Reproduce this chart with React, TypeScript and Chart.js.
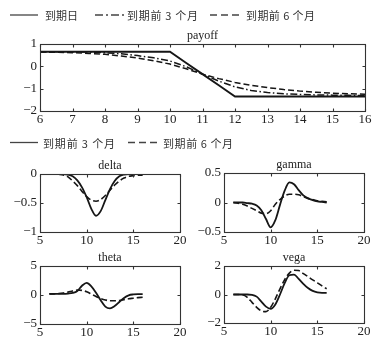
import React, { useEffect, useRef } from "react";
import { Chart, registerables } from "chart.js";
Chart.register(...registerables);

// ---------- data ----------
const xs = [6, 6.5, 7, 7.5, 8, 8.5, 9, 9.5, 10, 10.5, 11, 11.5, 12, 12.5, 13, 13.5, 14, 14.5, 15, 15.5, 16];

const payoffExpiry = [0.65, 0.65, 0.65, 0.65, 0.65, 0.65, 0.65, 0.65, 0.65, 0.15, -0.35, -0.85, -1.35, -1.35, -1.35, -1.35, -1.35, -1.35, -1.35, -1.35, -1.35];
const payoff3m = [0.65, 0.65, 0.65, 0.64, 0.61, 0.56, 0.48, 0.38, 0.24, -0.02, -0.35, -0.66, -0.92, -1.08, -1.17, -1.23, -1.26, -1.28, -1.29, -1.3, -1.31];
const payoff6m = [0.64, 0.63, 0.61, 0.58, 0.54, 0.46, 0.37, 0.25, 0.1, -0.11, -0.35, -0.55, -0.72, -0.85, -0.95, -1.04, -1.11, -1.16, -1.2, -1.23, -1.25];

const delta3m = [0, 0, 0, 0, -0.01, -0.04, -0.11, -0.23, -0.4, -0.6, -0.72, -0.64, -0.45, -0.26, -0.12, -0.04, -0.01, 0, 0, 0, 0];
const delta6m = [0, 0, -0.005, -0.015, -0.05, -0.12, -0.2, -0.3, -0.39, -0.45, -0.47, -0.44, -0.37, -0.28, -0.19, -0.12, -0.07, -0.04, -0.03, -0.02, -0.02];

const gamma3m = [0, 0, 0, -0.01, -0.02, -0.05, -0.13, -0.28, -0.42, -0.3, -0.04, 0.2, 0.34, 0.31, 0.21, 0.12, 0.07, 0.04, 0.02, 0.01, 0];
const gamma6m = [0, -0.01, -0.03, -0.06, -0.1, -0.14, -0.18, -0.19, -0.14, -0.03, 0.05, 0.11, 0.14, 0.14, 0.13, 0.1, 0.07, 0.05, 0.03, 0.02, 0.01];

const theta3m = [0.2, 0.2, 0.2, 0.2, 0.25, 0.35, 0.7, 1.6, 2.1, 1.5, 0.4, -0.9, -2.0, -2.3, -1.9, -1.2, -0.5, -0.05, 0.1, 0.15, 0.15];
const theta6m = [0.2, 0.2, 0.25, 0.35, 0.5, 0.7, 0.85, 0.8, 0.55, 0.15, -0.25, -0.6, -0.85, -1.0, -1.0, -0.95, -0.8, -0.65, -0.55, -0.45, -0.4];

const vega3m = [0, 0, 0, 0, -0.02, -0.15, -0.5, -0.85, -1.0, -0.7, 0.0, 0.8, 1.35, 1.4, 1.1, 0.75, 0.45, 0.25, 0.15, 0.12, 0.12];
const vega6m = [0, 0, -0.02, -0.2, -0.55, -0.9, -1.15, -1.2, -0.9, -0.3, 0.4, 1.05, 1.5, 1.7, 1.68, 1.47, 1.25, 1.03, 0.82, 0.6, 0.4];

const payoffXTicks = [6, 7, 8, 9, 10, 11, 12, 13, 14, 15, 16];
const greekXTicks = [5, 10, 15, 20];
const payoffYTicks = [-2, -1, 0, 1];
const deltaYTicks = [-1, -0.5, 0];
const gammaYTicks = [-0.5, 0, 0.5];
const thetaYTicks = [-5, 0, 5];
const vegaYTicks = [-2, 0, 2];

const legendTop = ["到期日", "到期前 3 个月", "到期前 6 个月"];
const legendGreek = ["到期前 3 个月", "到期前 6 个月"];

// ---------- styles ----------
const LINE = "#161616";
const DASH = [6, 3];
const DASHDOT = [7, 2.5, 1.5, 2.5];
const FONT = '"Liberation Serif", "Times New Roman", serif';

const framePlugin = {
  id: "frame",
  afterDraw(chart: any, _a: any, opts: any) {
    const { ctx, chartArea: a, scales } = chart;
    ctx.save();
    ctx.strokeStyle = "#333";
    ctx.lineWidth = 1.1;
    const l = Math.round(a.left) + 0.5, t = Math.round(a.top) + 0.5;
    const r = Math.round(a.right) + 0.5, b = Math.round(a.bottom) + 0.5;
    ctx.strokeRect(l, t, r - l, b - t);
    ctx.beginPath();
    for (const tk of scales.x.ticks) {
      const px = Math.round(scales.x.getPixelForValue(tk.value)) + 0.5;
      ctx.moveTo(px, b); ctx.lineTo(px, b - 3);
      ctx.moveTo(px, t); ctx.lineTo(px, t + 3);
    }
    for (const tk of scales.y.ticks) {
      const py = Math.round(scales.y.getPixelForValue(tk.value)) + 0.5;
      ctx.moveTo(l, py); ctx.lineTo(l + 3, py);
      ctx.moveTo(r, py); ctx.lineTo(r - 3, py);
    }
    ctx.stroke();
    ctx.fillStyle = "#222";
    ctx.font = `12px ${FONT}`;
    ctx.textAlign = "center";
    ctx.textBaseline = "alphabetic";
    ctx.fillText(opts.text, (a.left + a.right) / 2, a.top - 5);
    ctx.restore();
  },
};

type Series = { values: number[]; dash: number[]; width?: number };

function Panel(props: {
  box: [number, number, number, number];
  title: string;
  xMin: number; xMax: number; xTicks: number[];
  yMin: number; yMax: number; yTicks: number[];
  series: Series[];
  smooth?: boolean;
}) {
  const ref = useRef<HTMLCanvasElement>(null);
  const [L, T, R, B] = props.box;
  const cw = R - L + 50;
  const ch = B - T + 40;
  useEffect(() => {
    const fmt = (v: any) => String(v).replace("-", "\u2212");
    const chart = new Chart(ref.current!, {
      type: "line",
      data: {
        datasets: props.series.map((s, i) => ({
          label: "s" + i,
          data: xs.map((x, j) => ({ x, y: s.values[j] })),
          borderColor: LINE,
          borderWidth: s.width ?? 1.8,
          borderDash: s.dash,
          pointRadius: 0,
          fill: false,
          cubicInterpolationMode: props.smooth ? "monotone" : "default",
          tension: 0,
        })),
      },
      options: {
        animation: false,
        responsive: false,
        devicePixelRatio: 1,
        layout: { padding: { top: 20, right: 10, left: 0, bottom: 0 } },
        plugins: { legend: { display: false }, tooltip: { enabled: false }, frame: { text: props.title } } as any,
        scales: {
          x: {
            type: "linear",
            min: props.xMin,
            max: props.xMax,
            grid: { display: false, drawTicks: false },
            border: { display: false },
            afterBuildTicks: (s: any) => { s.ticks = props.xTicks.map((v) => ({ value: v })); },
            afterFit: (s: any) => { s.height = 20; },
            ticks: { padding: 1, maxRotation: 0, autoSkip: false, color: "#222", font: { family: FONT, size: 13 }, callback: fmt },
          },
          y: {
            type: "linear",
            min: props.yMin,
            max: props.yMax,
            grid: { display: false, drawTicks: false },
            border: { display: false },
            afterBuildTicks: (s: any) => { s.ticks = props.yTicks.map((v) => ({ value: v })); },
            afterFit: (s: any) => { s.width = 40; },
            ticks: { padding: 3, autoSkip: false, color: "#222", font: { family: FONT, size: 13 }, callback: fmt },
          },
        },
      } as any,
      plugins: [framePlugin],
    });
    return () => chart.destroy();
  }, []);
  return (
    <canvas
      ref={ref}
      width={cw}
      height={ch}
      style={{ position: "absolute", left: L - 40, top: T - 20, width: cw, height: ch }}
    />
  );
}

function Legend() {
  const tf = { fontFamily: '"Noto Sans CJK SC", sans-serif', fontSize: 11, fill: "#333" } as any;
  const ln = { stroke: "#444", strokeWidth: 1.3 } as any;
  return (
    <svg width={385} height={353} style={{ position: "absolute", left: 0, top: 0, pointerEvents: "none" }}>
      <line x1={10} y1={15} x2={38} y2={15} {...ln} />
      <text x={45} y={15} dominantBaseline="central" textLength={33} lengthAdjust="spacing" {...tf}>{legendTop[0]}</text>
      <line x1={95} y1={15} x2={125} y2={15} strokeDasharray="8 3 2 3" {...ln} />
      <text x={127} y={15} dominantBaseline="central" textLength={71} lengthAdjust="spacing" {...tf}>{legendTop[1]}</text>
      <line x1={210} y1={15} x2={243} y2={15} strokeDasharray="7 4" {...ln} />
      <text x={246} y={15} dominantBaseline="central" textLength={69} lengthAdjust="spacing" {...tf}>{legendTop[2]}</text>

      <line x1={10} y1={142.5} x2={38} y2={142.5} {...ln} />
      <text x={43} y={142.5} dominantBaseline="central" textLength={72} lengthAdjust="spacing" {...tf}>{legendGreek[0]}</text>
      <line x1={128} y1={142.5} x2={158} y2={142.5} strokeDasharray="7 4" {...ln} />
      <text x={163} y={142.5} dominantBaseline="central" textLength={70} lengthAdjust="spacing" {...tf}>{legendGreek[1]}</text>
    </svg>
  );
}

export default function App() {
  return (
    <div style={{ position: "fixed", left: 0, top: 0, width: 385, height: 353, background: "#fff", overflow: "hidden" }}>
      <Panel box={[40, 44, 365, 111]} title="payoff" xMin={6} xMax={16} xTicks={payoffXTicks} yMin={-2} yMax={1} yTicks={payoffYTicks}
        series={[{ values: payoffExpiry, dash: [], width: 1.9 }, { values: payoff3m, dash: DASHDOT, width: 1.5 }, { values: payoff6m, dash: DASH, width: 1.5 }]} />
      <Panel box={[40, 174, 180, 232]} title="delta" xMin={5} xMax={20} xTicks={greekXTicks} yMin={-1} yMax={0} yTicks={deltaYTicks} smooth
        series={[{ values: delta3m, dash: [] }, { values: delta6m, dash: DASH, width: 1.6 }]} />
      <Panel box={[224, 173, 364, 232]} title="gamma" xMin={5} xMax={20} xTicks={greekXTicks} yMin={-0.5} yMax={0.5} yTicks={gammaYTicks} smooth
        series={[{ values: gamma3m, dash: [] }, { values: gamma6m, dash: DASH, width: 1.6 }]} />
      <Panel box={[40, 266, 180, 324]} title="theta" xMin={5} xMax={20} xTicks={greekXTicks} yMin={-5} yMax={5} yTicks={thetaYTicks} smooth
        series={[{ values: theta3m, dash: [] }, { values: theta6m, dash: DASH, width: 1.6 }]} />
      <Panel box={[224, 266, 364, 323]} title="vega" xMin={5} xMax={20} xTicks={greekXTicks} yMin={-2} yMax={2} yTicks={vegaYTicks} smooth
        series={[{ values: vega3m, dash: [] }, { values: vega6m, dash: DASH, width: 1.6 }]} />
      <Legend />
    </div>
  );
}
